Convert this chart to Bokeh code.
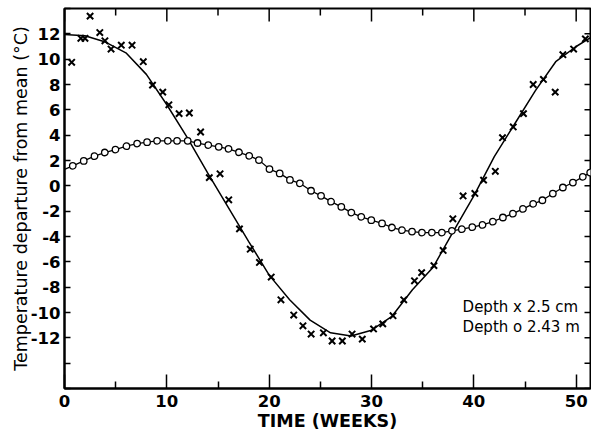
from bokeh.plotting import figure
from bokeh.models import LinearAxis, FixedTicker, Range1d, Label
from bokeh.embed import file_html
from bokeh.resources import INLINE

# ---- data ----
# depth 2.5 cm observations (x markers)
shallow_t = [0.7, 1.6, 2.0, 2.5, 3.45, 3.95, 4.55, 5.55, 6.6, 7.7, 8.6, 9.6, 10.2, 11.2,
             12.2, 13.3, 14.15, 15.2, 16.05, 17.1, 18.15, 19.05, 20.2, 21.15, 22.4, 23.3,
             24.1, 25.3, 26.15, 27.15, 28.1, 29.1, 30.2, 31.1, 32.1, 33.15, 34.2, 34.9,
             36.1, 37.0, 37.95, 38.95, 40.1, 40.95, 42.1, 42.8, 43.85, 44.85, 45.8, 46.8,
             47.95, 48.7, 49.75, 50.9]
shallow_v = [9.75, 11.65, 11.65, 13.4, 12.1, 11.45, 10.8, 11.1, 11.1, 9.8, 7.95, 7.4, 6.4, 5.7,
             5.75, 4.25, 0.65, 0.95, -1.1, -3.4, -5.0, -6.05, -7.2, -9.0, -10.2, -11.05,
             -11.7, -11.6, -12.25, -12.25, -11.7, -12.1, -11.3, -10.9, -10.25, -9.0, -7.5, -6.85,
             -6.3, -5.1, -2.6, -0.8, -0.6, 0.45, 1.15, 3.8, 4.65, 5.7, 8.0, 8.4,
             7.4, 10.35, 10.8, 11.6]

# fitted curve for depth 2.5 cm
fit_t = [0, 2, 4, 6, 8, 10, 12, 14, 16, 18, 20, 22, 24, 26, 28, 30, 32, 34, 36, 38, 40,
         42, 44, 46, 48, 50, 51.4]
fit_v = [11.95, 11.85, 11.35, 10.5, 8.8, 6.4, 3.8, 1.0, -1.7, -4.4, -7.05, -9.0, -10.6,
         -11.6, -11.85, -11.4, -10.3, -8.2, -6.45, -3.6, -0.8, 2.3, 4.9, 7.5, 9.8, 11.0, 11.7]

# depth 2.43 m observations (open circles)
deep_t = [0.81, 1.88, 2.93, 3.94, 4.98, 6.05, 7.1, 8.07, 9.05, 10.1, 11.0, 12.04, 13.0,
          14.05, 15.07, 16.03, 17.05, 18.05, 19.0, 20.03, 21.03, 22.03, 23.0, 24.09, 25.07,
          26.05, 27.05, 28.03, 29.0, 29.98, 31.03, 32.0, 32.98, 33.96, 34.93, 35.9, 36.88,
          37.86, 38.83, 39.85, 40.85, 41.86, 42.84, 43.82, 44.8, 45.8, 46.7, 47.72, 48.7,
          49.68, 50.65, 51.37]
deep_v = [1.58, 1.97, 2.34, 2.63, 2.86, 3.13, 3.34, 3.45, 3.55, 3.55, 3.55, 3.55, 3.38,
          3.22, 3.08, 2.92, 2.65, 2.37, 2.03, 1.32, 0.98, 0.47, 0.2, -0.39, -0.79,
          -1.25, -1.66, -2.11, -2.45, -2.71, -2.97, -3.29, -3.5, -3.61, -3.69, -3.69, -3.69,
          -3.55, -3.42, -3.26, -3.09, -2.83, -2.5, -2.2, -1.82, -1.42, -1.14, -0.61, -0.13,
          0.26, 0.71, 1.05]
deep_start_v = 1.3  # where the deep curve meets the left axis

x_major = [0, 10, 20, 30, 40, 50]
x_minor = [5, 15, 25, 35, 45]
y_ticks = list(range(-16, 15, 2))
y_labeled = list(range(-12, 13, 2))

FONT = "DejaVu Sans"
X0, X1, Y0, Y1 = 0, 51.4, -16, 14

W, H = 591, 438
B_LEFT, B_RIGHT, B_TOP, B_BOTTOM = 64, 1, 8, 50
FRAME_W = W - B_LEFT - B_RIGHT
FRAME_H = H - B_TOP - B_BOTTOM

p = figure(width=W, height=H, x_range=Range1d(X0, X1), y_range=Range1d(Y0, Y1),
           output_backend="svg", toolbar_location=None,
           x_axis_location=None, y_axis_location=None,
           min_border_left=B_LEFT, min_border_right=B_RIGHT,
           min_border_top=B_TOP, min_border_bottom=B_BOTTOM)
p.xgrid.visible = False
p.ygrid.visible = False
p.outline_line_color = "black"
p.outline_line_width = 2
p.background_fill_color = "white"
p.border_fill_color = "white"

def style_axis(ax, major_in, minor_in=0):
    ax.axis_line_width = 2
    ax.axis_line_color = "black"
    ax.major_tick_in = major_in
    ax.major_tick_out = 0
    ax.minor_tick_in = minor_in
    ax.minor_tick_out = 0
    ax.major_tick_line_width = 1.5
    ax.minor_tick_line_width = 1.5
    ax.major_tick_line_color = "black"
    ax.minor_tick_line_color = "black" if minor_in else None

xt = FixedTicker(ticks=x_major, minor_ticks=x_minor)
yt = FixedTicker(ticks=y_ticks, minor_ticks=[])

bottom = LinearAxis(ticker=xt, axis_label="TIME (WEEKS)")
style_axis(bottom, 14, 7)
bottom.major_label_overrides = {v: str(v) for v in x_major}
bottom.major_label_text_font = FONT
bottom.major_label_text_font_style = "bold"
bottom.major_label_text_font_size = "16.5px"
bottom.major_label_text_color = "black"
bottom.major_label_standoff = 6
bottom.axis_label_text_font = FONT
bottom.axis_label_text_font_style = "bold"
bottom.axis_label_text_font_size = "17.5px"
bottom.axis_label_text_color = "black"
bottom.axis_label_standoff = 1
p.add_layout(bottom, "below")

left = LinearAxis(ticker=yt, axis_label="Temperature departure from mean (°C)")
style_axis(left, 6)
left.major_label_overrides = {v: (str(v) if v in y_labeled else "") for v in y_ticks}
left.major_label_text_font = FONT
left.major_label_text_font_style = "bold"
left.major_label_text_font_size = "16.5px"
left.major_label_text_color = "black"
left.major_label_standoff = 4
left.axis_label_text_font = FONT
left.axis_label_text_font_style = "normal"
left.axis_label_text_font_size = "17.5px"
left.axis_label_text_color = "black"
left.axis_label_standoff = -3
p.add_layout(left, "left")

# inward tick marks on the top and right frame edges
def px_to_y(px):
    return px * (Y1 - Y0) / FRAME_H

def px_to_x(px):
    return px * (X1 - X0) / FRAME_W

p.segment(x0=x_major, y0=[Y1] * len(x_major), x1=x_major,
          y1=[Y1 - px_to_y(13)] * len(x_major), line_color="black", line_width=1.5)
p.segment(x0=x_minor, y0=[Y1] * len(x_minor), x1=x_minor,
          y1=[Y1 - px_to_y(7)] * len(x_minor), line_color="black", line_width=1.5)
p.segment(x0=[X1] * len(y_ticks), y0=y_ticks, x1=[X1 - px_to_x(6)] * len(y_ticks),
          y1=y_ticks, line_color="black", line_width=1.5)

# curves
p.line(fit_t, fit_v, line_color="black", line_width=1.5)
p.line([0.0] + deep_t, [deep_start_v] + deep_v, line_color="black", line_width=1.3)
p.scatter(deep_t, deep_v, marker="circle", size=6.5, fill_color="white",
          line_color="black", line_width=1.3)
p.scatter(shallow_t, shallow_v, marker="x", size=9, line_color="black", line_width=2)

for txt, yv in (("Depth  x 2.5 cm", -9.55), ("Depth  o 2.43 m", -11.13)):
    p.add_layout(Label(x=38.9, y=yv, text=txt, text_font=FONT, text_font_size="15px",
                       text_color="black", text_baseline="alphabetic", text_align="left"))

open("out.html", "w").write(file_html(p, INLINE))
